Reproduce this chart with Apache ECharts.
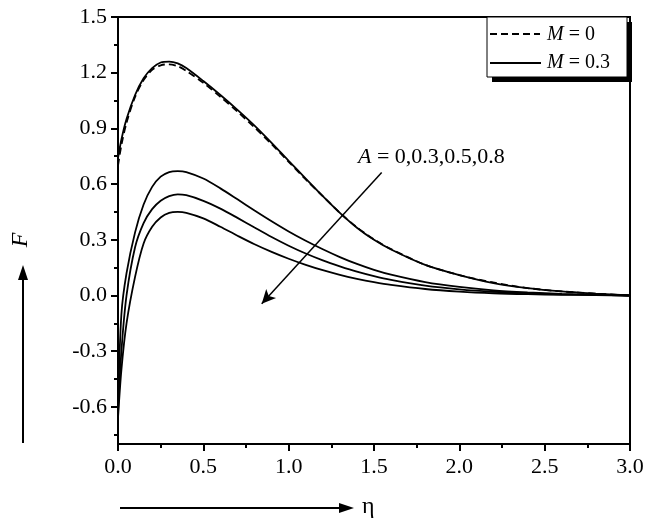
<!DOCTYPE html>
<html>
<head>
<meta charset="utf-8">
<script src="https://cdn.jsdelivr.net/npm/echarts@6/dist/echarts.min.js"></script>
<style>html,body{margin:0;padding:0;background:#fff}#c{width:648px;height:523px}</style>
</head>
<body>
<div id="c"></div>
<script>
// eta grid
const eta   = [0, 0.02, 0.05, 0.1, 0.15, 0.2, 0.25, 0.3, 0.35, 0.4, 0.5, 0.6, 0.7, 0.8, 0.9, 1.0, 1.1, 1.2, 1.3, 1.4, 1.5, 1.6, 1.8, 2.0, 2.2, 2.4, 2.6, 2.8, 3.0];
// M = 0 (dashed)
const fM0   = [0.70, 0.81, 0.93, 1.07, 1.16, 1.215, 1.24, 1.245, 1.235, 1.21, 1.145, 1.07, 0.99, 0.905, 0.815, 0.72, 0.625, 0.535, 0.445, 0.367, 0.302, 0.25, 0.165, 0.11, 0.07, 0.04, 0.022, 0.01, 0.0];
// M = 0.3, A = 0, 0.3, 0.5, 0.8
const fA0   = [0.74, 0.84, 0.95, 1.08, 1.17, 1.225, 1.255, 1.26, 1.25, 1.225, 1.155, 1.08, 1.0, 0.915, 0.822, 0.725, 0.63, 0.535, 0.445, 0.365, 0.30, 0.248, 0.165, 0.11, 0.067, 0.04, 0.022, 0.01, 0.0];
const fA03  = [-0.60, -0.10, 0.12, 0.34, 0.49, 0.585, 0.64, 0.665, 0.67, 0.665, 0.63, 0.577, 0.518, 0.458, 0.40, 0.345, 0.295, 0.249, 0.207, 0.17, 0.138, 0.112, 0.072, 0.046, 0.028, 0.017, 0.009, 0.004, 0.0];
const fA05  = [-0.63, -0.30, 0.0, 0.26, 0.39, 0.465, 0.51, 0.535, 0.545, 0.54, 0.51, 0.468, 0.418, 0.366, 0.315, 0.268, 0.226, 0.189, 0.157, 0.128, 0.104, 0.084, 0.053, 0.033, 0.02, 0.012, 0.006, 0.003, 0.0];
const fA08  = [-0.66, -0.40, -0.15, 0.10, 0.28, 0.37, 0.42, 0.445, 0.45, 0.445, 0.415, 0.37, 0.322, 0.276, 0.235, 0.198, 0.165, 0.136, 0.111, 0.09, 0.072, 0.057, 0.035, 0.021, 0.012, 0.007, 0.004, 0.002, 0.0];
// ticks
const yMajor = [-0.6, -0.3, 0.0, 0.3, 0.6, 0.9, 1.2, 1.5];
const yMinor = [-0.75, -0.45, -0.15, 0.15, 0.45, 0.75, 1.05, 1.35];
// legend labels
const legendLabels = ['M = 0', 'M = 0.3'];
// annotation arrow (data coords): from, to
const arrowFrom = [1.545, 0.663];
const arrowTo   = [0.842, -0.045];

const FONT = '"Liberation Serif", "DejaVu Serif", serif';
const pts = arr => eta.map((x, i) => [x, arr[i]]);

const chart = echarts.init(document.getElementById('c'), null, {renderer: 'canvas'});

const baseLine = (name, arr, dashed) => ({
  name, type: 'line', data: pts(arr), smooth: 0.3,
  symbol: 'none', xAxisIndex: 0, yAxisIndex: 0, z: 3,
  lineStyle: {color: '#000', width: 1.8, type: dashed ? [7, 4] : 'solid'},
  itemStyle: {color: '#000'}
});

const series = [
  baseLine(legendLabels[0], fM0, true),
  baseLine(legendLabels[1], fA0, false),
  baseLine('A03', fA03, false),
  baseLine('A05', fA05, false),
  Object.assign(baseLine('A08', fA08, false), {
    markLine: {
      silent: true, symbol: ['none', 'arrow'], symbolSize: [10, 14],
      lineStyle: {color: '#000', width: 1.5, type: 'solid'},
      label: {show: false},
      data: [[{coord: arrowFrom}, {coord: arrowTo}]]
    }
  })
];

const italicM = s => '{i|M}' + s.slice(1);

chart.setOption({
  animation: false,
  backgroundColor: '#fff',
  grid: {left: 118, right: 18, top: 17, bottom: 79, show: true, borderColor: '#000', borderWidth: 2, backgroundColor: 'transparent'},
  xAxis: {
    type: 'value', min: 0, max: 3, interval: 0.5,
    axisLine: {onZero: false, lineStyle: {color: '#000', width: 2}},
    axisTick: {length: 7, lineStyle: {color: '#000', width: 2}},
    minorTick: {show: true, splitNumber: 2, length: 4, lineStyle: {color: '#000', width: 2}},
    splitLine: {show: false},
    axisLabel: {margin: 12, color: '#000', fontFamily: FONT, fontSize: 22, formatter: v => v.toFixed(1)}
  },
  yAxis: [
    {
      type: 'value', min: -0.8, max: 1.5,
      axisLine: {onZero: false, lineStyle: {color: '#000', width: 2}},
      axisTick: {customValues: yMajor, length: 7, lineStyle: {color: '#000', width: 2}},
      splitLine: {show: false},
      axisLabel: {customValues: yMajor, margin: 11, color: '#000', fontFamily: FONT, fontSize: 22, formatter: v => v.toFixed(1)}
    },
    {
      type: 'value', min: -0.8, max: 1.5, position: 'left',
      axisLine: {show: false, onZero: false},
      axisTick: {customValues: yMinor, length: 4, lineStyle: {color: '#000', width: 2}},
      splitLine: {show: false},
      axisLabel: {show: false, customValues: yMinor}
    }
  ],
  series,
  graphic: [
    // legend box with shadow
    {type: 'rect', z: 20, shape: {x: 492, y: 22, width: 140, height: 60}, style: {fill: '#000'}},
    {type: 'rect', z: 21, shape: {x: 487, y: 17, width: 140, height: 60}, style: {fill: '#fff', stroke: '#000', lineWidth: 1}},
    {type: 'line', z: 22, shape: {x1: 490, y1: 34, x2: 540, y2: 34}, style: {stroke: '#000', lineWidth: 2, lineDash: [7, 4]}},
    {type: 'line', z: 22, shape: {x1: 490, y1: 63, x2: 541, y2: 63}, style: {stroke: '#000', lineWidth: 2}},
    {type: 'text', z: 22, x: 547, y: 35,
     style: {text: italicM(legendLabels[0]), font: '20px ' + FONT, fill: '#000', textVerticalAlign: 'middle',
       rich: {i: {fontFamily: FONT, fontSize: 20, fontStyle: 'italic', fill: '#000'}}}},
    {type: 'text', z: 22, x: 547, y: 63,
     style: {text: italicM(legendLabels[1]), font: '20px ' + FONT, fill: '#000', textVerticalAlign: 'middle',
       rich: {i: {fontFamily: FONT, fontSize: 20, fontStyle: 'italic', fill: '#000'}}}},
    // annotation
    {type: 'text', x: 358, y: 157, z: 10,
     style: {text: '{i|A} = 0,0.3,0.5,0.8', font: '22px ' + FONT, fill: '#000', textVerticalAlign: 'middle',
       rich: {i: {fontFamily: FONT, fontSize: 22, fontStyle: 'italic', fill: '#000'}}}},
    // y-axis title F with arrow
    {type: 'text', x: 21, y: 240, rotation: Math.PI / 2, z: 10,
     style: {text: 'F', font: 'italic 24px ' + FONT, fill: '#000', textAlign: 'center', textVerticalAlign: 'middle'}},
    {type: 'line', z: 10, shape: {x1: 23, y1: 443, x2: 23, y2: 278}, style: {stroke: '#000', lineWidth: 2}},
    {type: 'polygon', z: 10, shape: {points: [[23, 265], [18, 280], [28, 280]]}, style: {fill: '#000'}},
    // x-axis title with arrow
    {type: 'line', z: 10, shape: {x1: 120, y1: 508, x2: 342, y2: 508}, style: {stroke: '#000', lineWidth: 2}},
    {type: 'polygon', z: 10, shape: {points: [[354, 508], [339, 503], [339, 513]]}, style: {fill: '#000'}},
    {type: 'text', x: 362, y: 507, z: 10,
     style: {text: 'η', font: '24px ' + FONT, fill: '#000', textVerticalAlign: 'middle'}}
  ]
});
</script>
</body>
</html>
